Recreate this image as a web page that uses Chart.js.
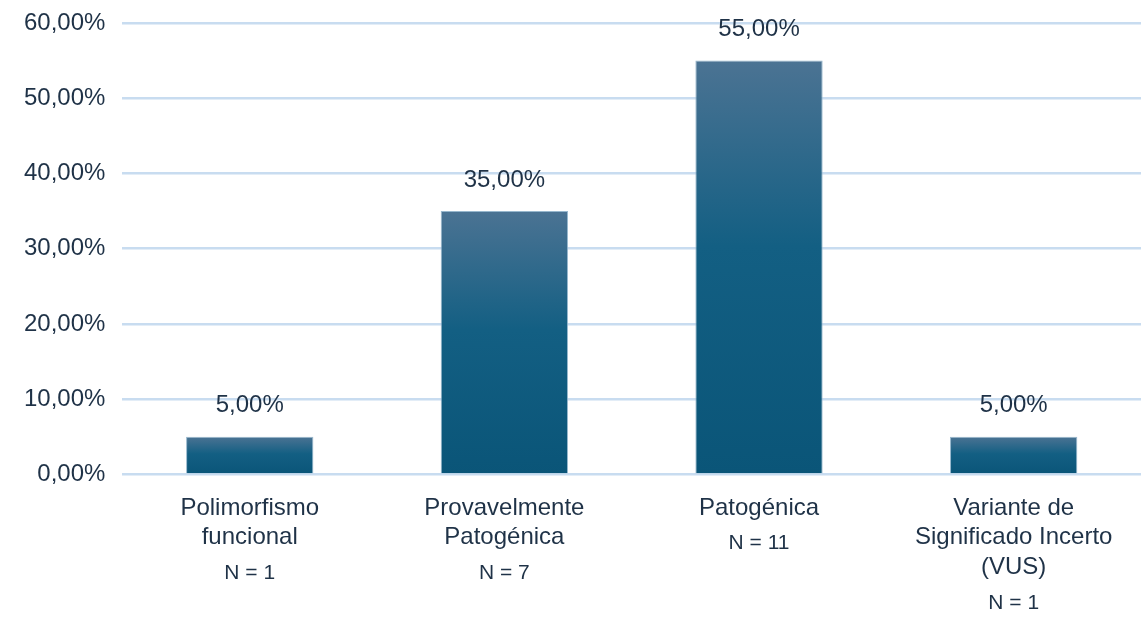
<!DOCTYPE html>
<html>
<head>
<meta charset="utf-8">
<script src="https://cdn.jsdelivr.net/npm/chart.js@4"></script>
<style>
  body { margin: 0; background: #fff; }
</style>
</head>
<body>
<canvas id="grafico" width="1141" height="618"></canvas>
<script>
// Dados do gráfico
const categorias = [
    ["Polimorfismo", "funcional"],
    ["Provavelmente", "Patogénica"],
    ["Patogénica"],
    ["Variante de", "Significado Incerto", "(VUS)"]
];
const percentagens = [5, 35, 55, 5];
const contagens = ["N = 1", "N = 7", "N = 11", "N = 1"];

const corTexto = "#1f3247";
const fonte = "'Liberation Sans', Arial, sans-serif";

// gradiente por barra (mais claro em cima)
function corBarra(ctx) {
    const chart = ctx.chart;
    const area = chart.chartArea;
    if (!area || ctx.parsed === undefined) return "#0b5578";
    const y = chart.scales.y;
    const topo = y.getPixelForValue(ctx.parsed.y);
    const base = y.getPixelForValue(0);
    if (!isFinite(topo) || base - topo < 1) return "#0b5578";
    const g = chart.ctx.createLinearGradient(0, topo, 0, base);
    g.addColorStop(0, "#4b7393");
    g.addColorStop(0.45, "#135f83");
    g.addColorStop(1, "#0a5578");
    return g;
}

// rótulos de valor e linhas "N = x"
const rotulos = {
    id: "rotulos",
    afterDatasetsDraw(chart) {
        const ctx = chart.ctx;
        const meta = chart.getDatasetMeta(0);
        ctx.save();
        ctx.fillStyle = corTexto;
        ctx.textAlign = "center";
        ctx.textBaseline = "middle";
        ctx.font = "24px " + fonte;
        meta.data.forEach((bar, i) => {
            ctx.fillText(percentagens[i].toFixed(2).replace(".", ",") + "%", bar.x, bar.y - 31);
        });
        const xs = chart.scales.x;
        const base = chart.chartArea.bottom;
        ctx.font = "21px " + fonte;
        contagens.forEach((n, i) => {
            const linhas = categorias[i].length;
            const y = base + 33 + (linhas - 1) * 30 + 36;
            ctx.fillText(n, xs.getPixelForTick(i), y);
        });
        ctx.restore();
    }
};

const config = {
    type: "bar",
    data: {
        labels: categorias,
        datasets: [{
            data: percentagens,
            backgroundColor: corBarra,
            borderColor: "rgba(140,175,200,0.9)",
            borderWidth: 1,
            barPercentage: 0.5,
            categoryPercentage: 1
        }]
    },
    options: {
        responsive: false,
        animation: false,
        layout: { padding: { top: 23, right: 0, bottom: 25, left: 7 } },
        plugins: {
            legend: { display: false },
            tooltip: { enabled: false }
        },
        scales: {
            x: {
                grid: { display: false },
                border: { display: false },
                ticks: {
                    color: corTexto,
                    font: { family: fonte, size: 24, lineHeight: 1.23 },
                    padding: 11,
                    maxRotation: 0,
                    autoSkip: false
                }
            },
            y: {
                min: 0,
                max: 60,
                afterFit: s => { s.paddingTop = 0; },
                grid: { color: "#c8dcf0", lineWidth: 2.5, drawTicks: false },
                border: { display: false },
                ticks: {
                    stepSize: 10,
                    color: corTexto,
                    font: { family: fonte, size: 24 },
                    padding: 17,
                    callback: v => v.toFixed(2).replace(".", ",") + "%"
                }
            }
        }
    },
    plugins: [rotulos]
};

new Chart(document.getElementById("grafico"), config);
</script>
</body>
</html>
